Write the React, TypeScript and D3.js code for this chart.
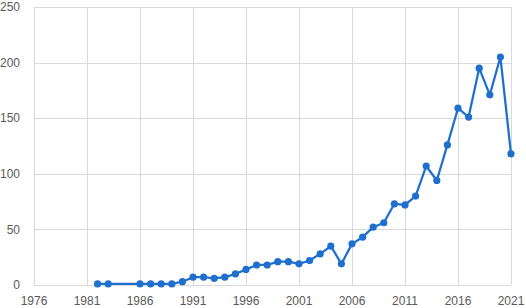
import React, { useEffect, useRef } from 'react';
import * as d3 from 'd3';

const years = [1982, 1983, 1986, 1987, 1988, 1989, 1990, 1991, 1992, 1993, 1994, 1995, 1996, 1997, 1998, 1999, 2000, 2001, 2002, 2003, 2004, 2005, 2006, 2007, 2008, 2009, 2010, 2011, 2012, 2013, 2014, 2015, 2016, 2017, 2018, 2019, 2020, 2021];
const counts = [1, 1, 1, 1, 1, 1, 3, 7, 7, 6, 7, 10, 14, 18, 18, 21, 21, 19, 22, 28, 35, 19, 37, 43, 52, 56, 73, 72, 80, 107, 94, 126, 159, 151, 195, 171, 205, 118];
const xTicks = [1976, 1981, 1986, 1991, 1996, 2001, 2006, 2011, 2016, 2021];
const yTicks = [0, 50, 100, 150, 200, 250];

const App = () => {
    const svgRef = useRef(null);

    useEffect(() => {
        const svg = d3.select(svgRef.current);
        const width = 526;
        const height = 308;
        const marginTop = 7;
        const marginRight = 15;
        const marginBottom = 23;
        const marginLeft = 34;
        const blue = '#1f6fce';
        const grid = '#d9d9d9';
        const textColor = '#595959';

        svg.attr('width', width).attr('height', height).selectAll('*').remove();

        const x = d3.scaleLinear()
            .domain([1976, 2021])
            .range([marginLeft, width - marginRight]);

        const y = d3.scaleLinear()
            .domain([0, 250])
            .range([height - marginBottom, marginTop]);

        svg.append('g')
            .selectAll('line')
            .data(yTicks)
            .enter()
            .append('line')
            .attr('x1', marginLeft)
            .attr('x2', width - marginRight)
            .attr('y1', d => Math.round(y(d)) + 0.5)
            .attr('y2', d => Math.round(y(d)) + 0.5)
            .attr('stroke', grid);

        svg.append('g')
            .selectAll('line')
            .data(xTicks)
            .enter()
            .append('line')
            .attr('x1', d => Math.round(x(d)) + 0.5)
            .attr('x2', d => Math.round(x(d)) + 0.5)
            .attr('y1', marginTop)
            .attr('y2', height - marginBottom)
            .attr('stroke', grid);

        svg.append('g')
            .selectAll('text')
            .data(yTicks)
            .enter()
            .append('text')
            .attr('x', 20)
            .attr('y', d => y(d))
            .attr('dy', '0.35em')
            .attr('text-anchor', 'end')
            .attr('fill', textColor)
            .attr('font-family', 'Liberation Sans, Arial, sans-serif')
            .attr('font-size', 12)
            .text(d => d);

        svg.append('g')
            .selectAll('text')
            .data(xTicks)
            .enter()
            .append('text')
            .attr('x', d => Math.min(x(d), width - 14))
            .attr('y', 305)
            .attr('text-anchor', 'middle')
            .attr('fill', textColor)
            .attr('font-family', 'Liberation Sans, Arial, sans-serif')
            .attr('font-size', 12)
            .text(d => d);

        const points = years.map((yr, i) => ({ yr, v: counts[i] }));

        const line = d3.line()
            .x(d => x(d.yr))
            .y(d => y(d.v));

        svg.append('path')
            .datum(points)
            .attr('fill', 'none')
            .attr('stroke', blue)
            .attr('stroke-width', 2.25)
            .attr('stroke-linejoin', 'round')
            .attr('d', line);

        svg.append('g')
            .selectAll('circle')
            .data(points)
            .enter()
            .append('circle')
            .attr('cx', d => x(d.yr))
            .attr('cy', d => y(d.v))
            .attr('r', 3.6)
            .attr('fill', blue);
    }, []);

    return <svg ref={svgRef} style={{ position: 'absolute', left: 0, top: 0 }}></svg>;
};

export default App;
